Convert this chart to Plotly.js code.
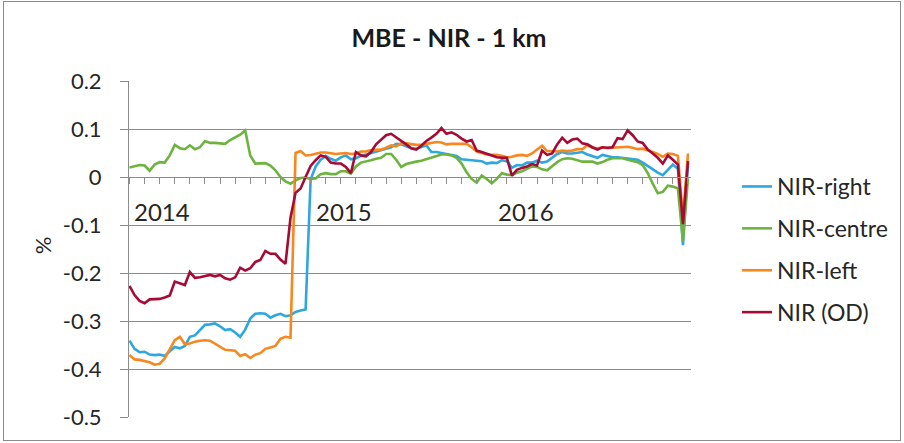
<!DOCTYPE html>
<html>
<head>
<meta charset="utf-8">
<script src="https://cdn.plot.ly/plotly-3.0.1.min.js"></script>
<style>
  html, body { margin: 0; padding: 0; background: #ffffff; }
  #wrap { position: relative; width: 904px; height: 443px; }
  #plot { position: absolute; left: 0; top: 0; width: 904px; height: 443px; }
  #frame { position: absolute; left: 3px; top: 1px; width: 896px; height: 438px; border: 1px solid #8a8a8a; pointer-events: none; }
</style>
</head>
<body>
<div id="wrap"><div id="plot"></div><div id="frame"></div></div>
<script>
// ---- data (10-day steps) ----
const seriesNames = ['NIR-right', 'NIR-centre', 'NIR-left', 'NIR (OD)'];

const nirRight = [
  -0.341,-0.358,-0.365,-0.364,-0.370,-0.371,-0.370,-0.373,-0.363,-0.354,-0.357,-0.352,
  -0.333,-0.330,-0.319,-0.308,-0.307,-0.305,-0.311,-0.319,-0.317,-0.324,-0.333,-0.318,
  -0.295,-0.285,-0.284,-0.285,-0.293,-0.288,-0.285,-0.290,-0.288,-0.281,-0.278,-0.276,
  -0.005,0.022,0.036,0.044,0.038,0.034,0.041,0.045,0.037,0.039,0.044,0.047,
  0.050,0.053,0.055,0.058,0.062,0.069,0.068,0.064,0.060,0.059,0.063,0.066,
  0.052,0.052,0.050,0.048,0.046,0.044,0.037,0.036,0.036,0.034,0.033,0.028,
  0.030,0.029,0.035,0.033,0.019,0.025,0.024,0.030,0.030,0.034,0.030,0.032,
  0.040,0.048,0.052,0.049,0.049,0.051,0.052,0.047,0.043,0.040,0.046,0.043,
  0.041,0.041,0.040,0.039,0.038,0.036,0.030,0.023,0.015,0.009,0.004,0.014,
  0.026,0.017,-0.142,0.030
];

const nirCentre = [
  0.020,0.023,0.025,0.024,0.013,0.026,0.031,0.030,0.045,0.067,0.060,0.058,
  0.066,0.058,0.062,0.075,0.071,0.071,0.070,0.069,0.077,0.082,0.088,0.097,
  0.045,0.028,0.028,0.029,0.024,0.014,0.000,-0.009,-0.014,-0.007,-0.002,-0.001,
  -0.004,-0.003,0.006,0.008,0.006,0.006,0.012,0.012,0.007,0.022,0.030,0.032,
  0.035,0.038,0.040,0.048,0.048,0.036,0.021,0.027,0.030,0.032,0.034,0.037,
  0.040,0.044,0.047,0.047,0.045,0.040,0.028,0.010,-0.004,-0.012,0.003,-0.004,
  -0.013,-0.004,0.008,0.005,0.004,0.009,0.012,0.017,0.022,0.021,0.016,0.014,
  0.022,0.031,0.037,0.039,0.038,0.035,0.032,0.032,0.032,0.028,0.031,0.036,
  0.039,0.039,0.039,0.036,0.034,0.031,0.025,0.008,-0.014,-0.034,-0.031,-0.018,
  -0.020,-0.024,-0.133,-0.003
];

const nirLeft = [
  -0.371,-0.380,-0.381,-0.383,-0.386,-0.391,-0.389,-0.378,-0.359,-0.340,-0.333,-0.348,
  -0.347,-0.343,-0.341,-0.340,-0.341,-0.347,-0.353,-0.360,-0.361,-0.362,-0.373,-0.369,
  -0.377,-0.370,-0.367,-0.358,-0.355,-0.352,-0.337,-0.333,-0.335,0.050,0.054,0.045,
  0.046,0.049,0.051,0.051,0.050,0.048,0.049,0.050,0.048,0.049,0.053,0.053,
  0.056,0.057,0.057,0.061,0.066,0.064,0.070,0.070,0.068,0.067,0.067,0.069,
  0.070,0.073,0.072,0.068,0.069,0.069,0.069,0.069,0.062,0.053,0.050,0.047,
  0.046,0.046,0.044,0.041,0.042,0.045,0.046,0.044,0.049,0.058,0.065,0.054,
  0.053,0.053,0.055,0.054,0.055,0.058,0.058,0.066,0.061,0.060,0.062,0.060,
  0.061,0.062,0.063,0.063,0.061,0.058,0.059,0.056,0.052,0.048,0.042,0.049,
  0.048,0.044,-0.085,0.049
];

const nirOD = [
  -0.227,-0.246,-0.258,-0.263,-0.255,-0.254,-0.254,-0.251,-0.247,-0.218,-0.222,-0.225,
  -0.198,-0.210,-0.209,-0.206,-0.204,-0.207,-0.204,-0.211,-0.214,-0.209,-0.189,-0.195,
  -0.190,-0.177,-0.173,-0.154,-0.160,-0.160,-0.172,-0.181,-0.085,-0.033,-0.024,0.000,
  0.023,0.035,0.045,0.042,0.030,0.028,0.028,0.021,0.008,0.052,0.045,0.043,
  0.052,0.068,0.077,0.087,0.090,0.083,0.075,0.068,0.060,0.057,0.065,0.075,
  0.082,0.090,0.102,0.090,0.093,0.088,0.080,0.074,0.077,0.055,0.052,0.048,
  0.045,0.041,0.040,0.040,0.003,0.015,0.019,0.022,0.027,0.024,0.055,0.046,
  0.049,0.068,0.082,0.071,0.078,0.080,0.070,0.068,0.062,0.057,0.062,0.061,
  0.062,0.081,0.079,0.097,0.087,0.074,0.071,0.057,0.049,0.040,0.028,0.045,
  0.036,0.026,-0.098,0.033
];

const yearLabels = ['2014', '2015', '2016'];
const yearLabelSteps = [6.4, 42.6, 78.9];
const yTickVals = [-0.5, -0.4, -0.3, -0.2, -0.1, 0, 0.1, 0.2];
const yTickText = ['-0.5', '-0.4', '-0.3', '-0.2', '-0.1', '0', '0.1', '0.2'];

// ---- build ----
const steps = nirRight.map((_, i) => i);
const monthTicks = steps.filter(i => i % 3 === 0);
const colors = ['#2ea6de', '#6db33f', '#f7871f', '#a50b35'];
const allSeries = [nirRight, nirCentre, nirLeft, nirOD];

const traces = allSeries.map((vals, k) => ({
  type: 'scatter', mode: 'lines',
  x: steps, y: vals, name: seriesNames[k],
  legendgroup: 'g' + k,
  line: { color: colors[k], width: 2.6 }
}));

const font = 'Lato, "Open Sans", sans-serif';
const gray = '#8c8c8c';

const annotations = yearLabels.map((t, k) => ({
  text: t, x: yearLabelSteps[k], y: -0.071, xref: 'x', yref: 'y',
  showarrow: false, xanchor: 'center', yanchor: 'middle',
  font: { family: font, size: 24, color: '#262626' }
}));
annotations.push({
  text: '%', textangle: -90, xref: 'paper', yref: 'paper',
  x: (42 - 129) / 563, y: (417 - 245) / 336, xanchor: 'center', yanchor: 'middle',
  showarrow: false, font: { family: font, size: 22, color: '#262626' }
});

const layout = {
  width: 904, height: 443,
  margin: { l: 129, r: 212, t: 81, b: 26 },
  paper_bgcolor: '#ffffff', plot_bgcolor: '#ffffff',
  title: {
    text: '<b>MBE - NIR - 1 km</b>', xref: 'container', yref: 'container',
    x: 449 / 904, y: 1 - 38 / 443, xanchor: 'center', yanchor: 'middle',
    font: { family: font, size: 25, color: '#1a1a1a' }
  },
  xaxis: {
    range: [-0.1, 111.6], anchor: 'free', position: 0.5 / 0.7,
    showgrid: false, zeroline: false, showline: true, linecolor: gray, linewidth: 1,
    tickmode: 'array', tickvals: monthTicks, ticks: 'outside', ticklen: 6,
    tickcolor: gray, showticklabels: false
  },
  yaxis: {
    range: [-0.5, 0.2], tickmode: 'array', tickvals: yTickVals, ticktext: yTickText,
    showgrid: true, gridcolor: gray, gridwidth: 1, zeroline: false,
    showline: true, linecolor: gray, ticks: 'outside', ticklen: 8, tickcolor: gray,
    ticklabelstandoff: 14,
    tickfont: { family: font, size: 22, color: '#262626' }
  },
  legend: {
    x: (737 - 129) / 563, xanchor: 'left', y: (417 - 165) / 336, yanchor: 'top',
    font: { family: font, size: 23, color: '#262626' },
    tracegroupgap: 9, bgcolor: 'rgba(0,0,0,0)'
  },
  showlegend: true,
  annotations: annotations
};

Plotly.newPlot('plot', traces, layout, { displayModeBar: false, staticPlot: true });
</script>
</body>
</html>
